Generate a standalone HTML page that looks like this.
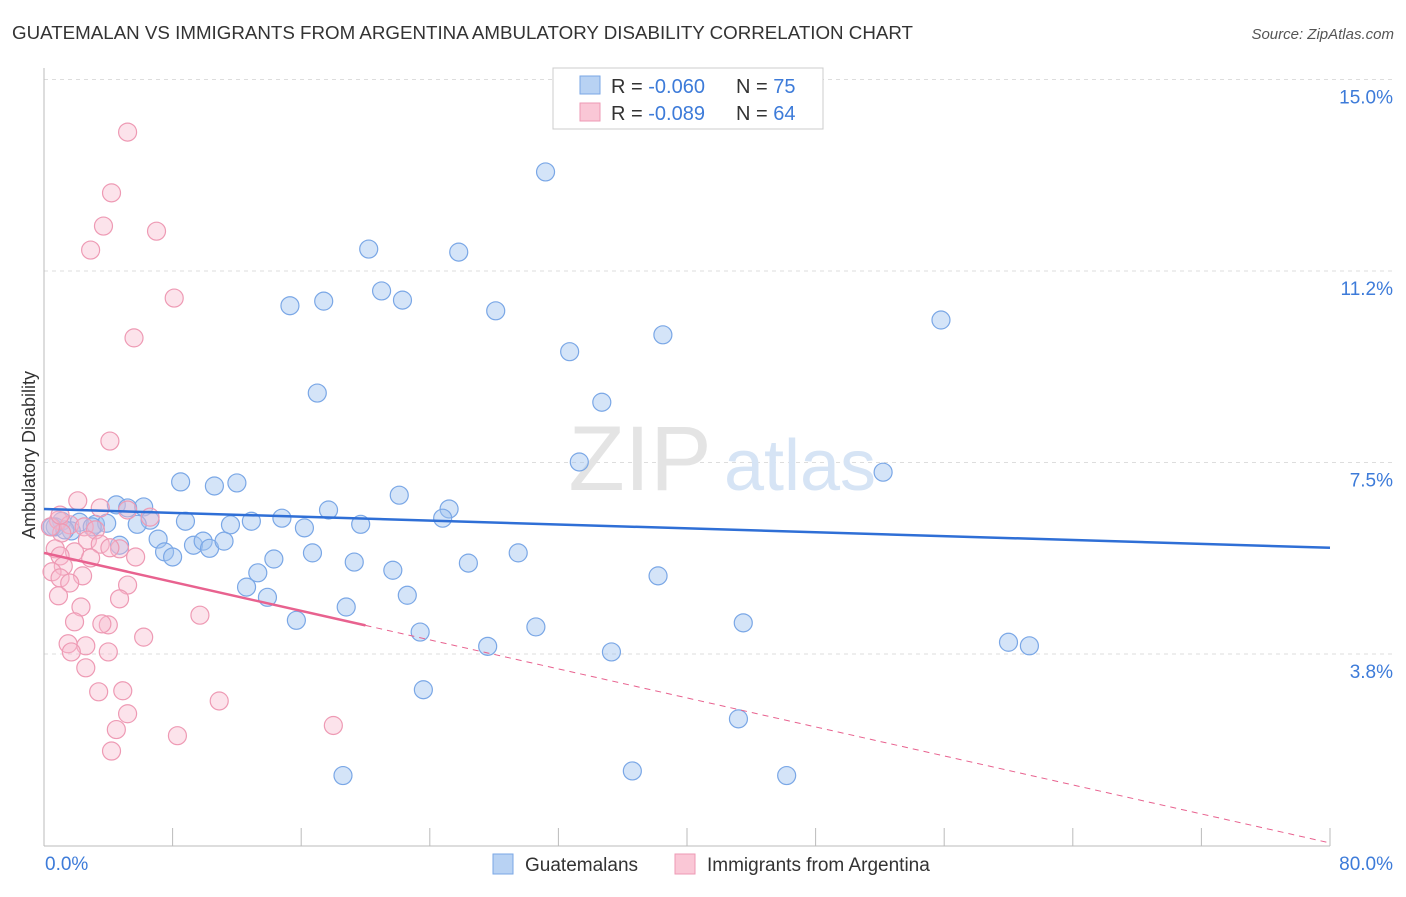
<!DOCTYPE html>
<html><head><meta charset="utf-8"><style>
body{margin:0;background:#fff;font-family:"Liberation Sans",sans-serif;}
svg text{font-family:"Liberation Sans",sans-serif;}
</style></head><body>
<svg width="1406" height="892" viewBox="0 0 1406 892" xmlns="http://www.w3.org/2000/svg">
<text x="12" y="39" font-size="18" fill="#333" textLength="901" lengthAdjust="spacingAndGlyphs">GUATEMALAN VS IMMIGRANTS FROM ARGENTINA AMBULATORY DISABILITY CORRELATION CHART</text>
<text x="1394" y="39" font-size="15" fill="#555" font-style="italic" text-anchor="end">Source: ZipAtlas.com</text>
<g id="grid"></g>
<text x="640" y="490" font-size="92" fill="#e4e4e4" font-family="Liberation Serif" text-anchor="middle">ZIP</text>
<text x="800" y="490" font-size="72" fill="#d6e4f5" text-anchor="middle">atlas</text>
<g id="axes"></g>
<g id="pts"></g>
<g id="lines"></g>
<text transform="translate(35,455) rotate(-90)" font-size="18" fill="#333" text-anchor="middle">Ambulatory Disability</text>
<g>
<rect x="553" y="68" width="270" height="61" fill="#fff" stroke="#ccc"/>
<rect x="580" y="76" width="20" height="18" fill="#b8d2f3" stroke="#7aa7e6"/>
<rect x="580" y="103" width="20" height="18" fill="#fac7d6" stroke="#ee9ab4"/>
<text x="611" y="93" font-size="20" fill="#333">R = <tspan fill="#3d7bd9">-0.060</tspan></text>
<text x="736" y="93" font-size="20" fill="#333">N = <tspan fill="#3d7bd9">75</tspan></text>
<text x="611" y="120" font-size="20" fill="#333">R = <tspan fill="#3d7bd9">-0.089</tspan></text>
<text x="736" y="120" font-size="20" fill="#333">N = <tspan fill="#3d7bd9">64</tspan></text>
</g>
<g>
<rect x="493" y="854" width="20" height="20" fill="#b8d2f3" stroke="#7aa7e6"/>
<text x="525" y="871" font-size="19" fill="#333">Guatemalans</text>
<rect x="675" y="854" width="20" height="20" fill="#fac7d6" stroke="#ee9ab4"/>
<text x="707" y="871" font-size="19" fill="#333">Immigrants from Argentina</text>
</g>
</svg>
<script>
const yTicks=[3.75,7.5,11.25,15];
const yTickLabels=["3.8%","7.5%","11.2%","15.0%"];
const xTicks=[0,8,16,24,32,40,48,56,64,72,80];
const xEndLabels=["0.0%","80.0%"];
const blueX=[31.2,20.2,25.8,15.3,17.4,21.0,22.3,28.1,55.8,38.5,32.7,17.0,34.7,33.3,52.2,8.5,10.6,12.0,22.1,25.2,17.7,4.5,6.2,5.2,1.1,2.2,3.2,3.9,6.6,8.8,11.6,12.9,14.8,16.2,19.7,24.8,0.7,1.7,4.7,7.1,7.5,8.0,9.3,9.9,10.3,11.2,16.7,19.3,26.4,29.5,14.3,13.3,21.7,38.2,12.6,13.9,22.6,18.8,15.7,23.4,30.6,27.6,35.3,43.5,60.0,61.3,23.6,43.2,18.6,36.6,46.2,5.8,3.0,0.5,1.3];
const blueY=[13.19,11.68,11.62,10.57,10.66,10.86,10.68,10.47,10.29,10.00,9.67,8.86,8.68,7.51,7.31,7.12,7.04,7.10,6.86,6.59,6.57,6.67,6.63,6.61,6.35,6.33,6.29,6.31,6.37,6.35,6.28,6.35,6.41,6.22,6.29,6.41,6.24,6.16,5.88,6.00,5.75,5.65,5.88,5.96,5.82,5.96,5.73,5.55,5.53,5.73,5.61,5.34,5.39,5.28,5.06,4.86,4.90,4.67,4.41,4.18,4.28,3.90,3.79,4.36,3.98,3.91,3.05,2.48,1.37,1.46,1.37,6.29,6.24,6.24,6.18];
const pinkX=[5.2,4.2,3.7,7.0,2.9,8.1,5.6,4.1,2.1,6.6,3.5,5.2,0.9,1.6,2.5,3.2,1.1,2.7,3.5,4.7,0.7,1.9,5.7,1.0,2.9,1.2,0.5,2.4,1.0,1.6,5.2,0.9,4.7,2.3,9.7,1.9,4.0,3.6,6.2,1.5,2.6,1.7,4.0,2.6,3.4,4.9,10.9,5.2,4.5,18.0,8.3,4.2,0.4,1.0,4.1];
const pinkY=[13.97,12.78,12.13,12.03,11.66,10.72,9.94,7.92,6.75,6.43,6.61,6.57,6.37,6.28,6.24,6.18,6.12,5.98,5.90,5.81,5.81,5.75,5.65,5.67,5.63,5.47,5.36,5.28,5.24,5.14,5.10,4.89,4.83,4.67,4.51,4.38,4.32,4.34,4.08,3.95,3.91,3.79,3.79,3.48,3.01,3.03,2.83,2.58,2.27,2.35,2.15,1.85,6.24,6.47,5.83];
const blueTrend=[6.59,5.83];
const pinkTrend=[5.73,0.05];
const pinkSolidEnd=20;
const X=v=>44+v/80*1286, Y=v=>845.5-v/15*766;
const NS="http://www.w3.org/2000/svg";
function mk(tag,attrs,parent){const e=document.createElementNS(NS,tag);for(const k in attrs)e.setAttribute(k,attrs[k]);parent.appendChild(e);return e;}
const grid=document.getElementById('grid'),axes=document.getElementById('axes'),pts=document.getElementById('pts'),lines=document.getElementById('lines');
yTicks.forEach((t,i)=>{
 const l=mk('line',{x1:44,x2:1394,y1:Y(t),y2:Y(t),stroke:'#ddd','stroke-dasharray':'4,4'},grid);
 
 
 const tx=mk('text',{x:1393,y:Y(t)+24,'font-size':19,fill:'#3d7bd9','text-anchor':'end'},axes);
 tx.textContent=yTickLabels[i];
 
 
});
const ax=mk('line',{x1:44,x2:44,y1:68,y2:846,stroke:'#bbb'},axes);


const bx=mk('line',{x1:44,x2:1330,y1:846,y2:846,stroke:'#bbb'},axes);


xTicks.forEach(t=>{
 const l=mk('line',{x1:X(t),x2:X(t),y1:828,y2:846,stroke:'#bbb'},axes);
 
 
});
const xl0=mk('text',{x:45,y:870,'font-size':19,fill:'#3d7bd9'},axes);xl0.textContent=xEndLabels[0];


const xl1=mk('text',{x:1393,y:870,'font-size':19,fill:'#3d7bd9','text-anchor':'end'},axes);xl1.textContent=xEndLabels[1];


blueX.forEach((v,i)=>{
 const c=mk('circle',{cx:X(v),cy:Y(blueY[i]),r:9,fill:'rgba(160,195,240,0.45)',stroke:'#7aa7e6','stroke-width':1.2},pts);
 
 
});
pinkX.forEach((v,i)=>{
 const c=mk('circle',{cx:X(v),cy:Y(pinkY[i]),r:9,fill:'rgba(248,185,205,0.4)',stroke:'#ee9ab4','stroke-width':1.2},pts);
 
 
});
const bl=mk('line',{x1:X(0),y1:Y(blueTrend[0]),x2:X(80),y2:Y(blueTrend[1]),stroke:'#2f6fd6','stroke-width':2.5},lines);


const pAt=x=>pinkTrend[0]+(pinkTrend[1]-pinkTrend[0])*x/80;
const pl=mk('line',{x1:X(0),y1:Y(pAt(0)),x2:X(pinkSolidEnd),y2:Y(pAt(pinkSolidEnd)),stroke:'#e8628f','stroke-width':2.5},lines);


const pd=mk('line',{x1:X(pinkSolidEnd),y1:Y(pAt(pinkSolidEnd)),x2:X(80),y2:Y(pAt(80)),stroke:'#e8628f','stroke-width':1,'stroke-dasharray':'6,5'},lines);


</script>
</body></html>
